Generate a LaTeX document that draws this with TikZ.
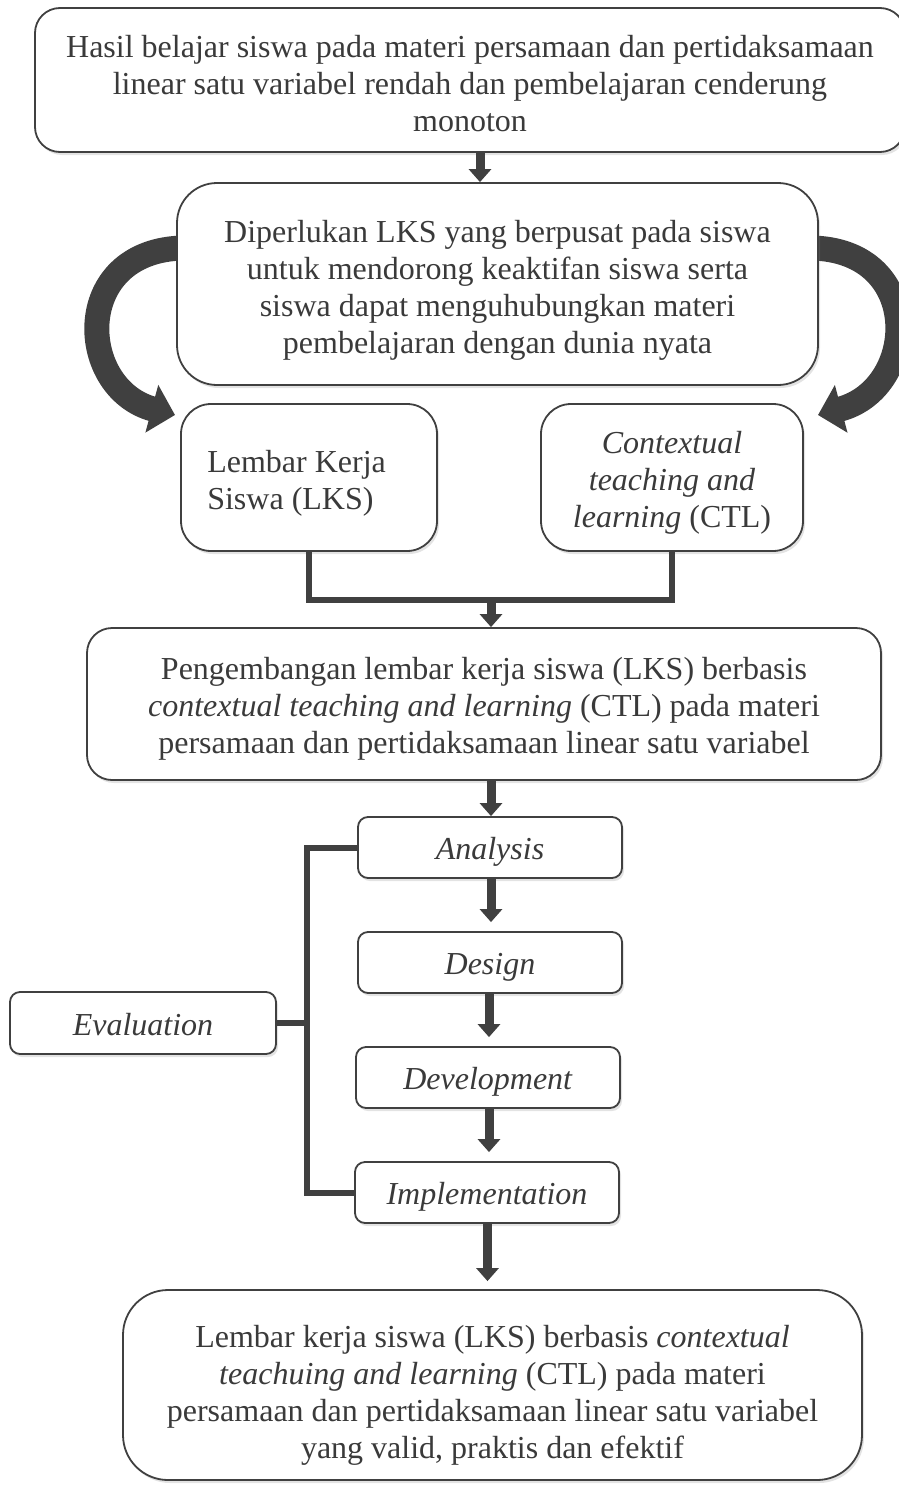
\documentclass[tikz,border=0pt]{standalone}
\usepackage{fontspec}
\setmainfont{Liberation Serif}
\usetikzlibrary{arrows.meta,shadows}
\definecolor{dk}{HTML}{404040}
\definecolor{tx}{HTML}{3A3A3A}
\begin{document}
\begin{tikzpicture}[x=1pt,y=-1pt,
  box/.style={draw=dk, line width=1.8pt, fill=white, inner sep=0pt,
    drop shadow={shadow xshift=2pt, shadow yshift=-3pt, opacity=0.22}},
  txt/.style={text=tx, align=center, inner sep=0pt, font=\fontsize{32}{37}\selectfont},
  conn/.style={draw=dk, line width=6pt},
  barrow/.style={draw=dk, line width=9pt, -{Triangle[width=22pt,length=13pt]}},
  carrow/.style={draw=dk, line width=25pt, -{Triangle[width=48pt,length=24pt]}}]
\useasboundingbox (0,0) rectangle (899,1488);

% curved arrows (behind boxes)
\coordinate (tipL) at (175,415);
\coordinate (tipR) at (818,415);
\coordinate (stL) at (190,248);
\coordinate (stR) at (805,248);
\draw[carrow] (stL) .. controls (70,245) and (75,388) .. (tipL);
\draw[carrow] (stR) .. controls (925,245) and (920,388) .. (tipR);

% boxes
\node[box, minimum width=870, minimum height=144, rounded corners=25] (top) at (470,80) {};
\node[txt] (topt) at ([yshift=-4pt]top.center)
  {Hasil belajar siswa pada materi persamaan dan pertidaksamaan\\
   linear satu variabel rendah dan pembelajaran cenderung\\ monoton};
\node[box, minimum width=641, minimum height=202, rounded corners=40] (b2) at (497.5,284) {};
\node[txt] (b2t) at ([yshift=-6pt]b2.center)
  {Diperlukan LKS yang berpusat pada siswa\\ untuk mendorong keaktifan siswa serta\\
   siswa dapat menguhubungkan materi\\ pembelajaran dengan dunia nyata};
\node[box, minimum width=256, minimum height=147, rounded corners=30] (lks) at (309,477.5) {};
\node[txt, align=left, anchor=west] (lkst) at ([xshift=27pt,yshift=-6pt]lks.west)
  {Lembar Kerja\\ Siswa (LKS)};
\node[box, minimum width=262, minimum height=147, rounded corners=30] (ctl) at (672,477.5) {};
\node[txt] (ctlt) at ([yshift=-5pt]ctl.center)
  {\textit{Contextual}\\ \textit{teaching and}\\ \textit{learning} (CTL)};
\node[box, minimum width=794, minimum height=152, rounded corners=25] (b6) at (484,704) {};
\node[txt] (b6t) at ([yshift=-5pt]b6.center)
  {Pengembangan lembar kerja siswa (LKS) berbasis\\
   \textit{contextual teaching and learning} (CTL) pada materi\\
   persamaan dan pertidaksamaan linear satu variabel};
\node[box, minimum width=264, minimum height=61, rounded corners=10] (ana) at (490,847.5) {};
\node[txt] (anat) at ([yshift=-4pt]ana.center) {\textit{Analysis}};
\node[box, minimum width=264, minimum height=61, rounded corners=10] (des) at (490,962.5) {};
\node[txt] (dest) at ([yshift=-5pt]des.center) {\textit{Design}};
\node[box, minimum width=264, minimum height=61, rounded corners=10] (dev) at (488,1077.5) {};
\node[txt] (devt) at ([yshift=-4pt]dev.center) {\textit{Development}};
\node[box, minimum width=264, minimum height=61, rounded corners=10] (imp) at (487,1192.5) {};
\node[txt] (impt) at ([yshift=-4pt]imp.center) {\textit{Implementation}};
\node[box, minimum width=266, minimum height=62, rounded corners=10] (eva) at (143,1023) {};
\node[txt] (evat) at ([yshift=-2pt]eva.center) {\textit{Evaluation}};
\node[box, minimum width=739, minimum height=190, rounded corners=45] (fin) at (492.5,1385) {};
\node[txt] (fint) at ([yshift=-10pt]fin.center)
  {Lembar kerja siswa (LKS) berbasis \textit{contextual}\\
   \textit{teachuing and learning} (CTL) pada materi\\
   persamaan dan pertidaksamaan linear satu variabel\\
   yang valid, praktis dan efektif};

% straight arrows
\coordinate (a1) at (480,0);
\draw[barrow] (top.south -| a1) -- (b2.north -| a1);
\coordinate (j) at (491,600);
\draw[conn] (lks.south) -- (lks.south |- j) -| (ctl.south);
\draw[barrow] (j) -- (j |- b6.north);
\coordinate (a2) at (491,0);
\draw[barrow] (b6.south -| a2) -- (ana.north -| a2);
\draw[barrow, shorten >=9pt] (ana.south -| a2) -- (des.north -| a2);
\coordinate (a3) at (489,0);
\draw[barrow, shorten >=9pt] (des.south -| a3) -- (dev.north -| a3);
\draw[barrow, shorten >=9pt] (dev.south -| a3) -- (imp.north -| a3);
\coordinate (a4) at (487.5,0);
\draw[barrow, shorten >=8pt] (imp.south -| a4) -- (fin.north -| a4);

% evaluation bracket
\coordinate (bx) at (307,0);
\draw[conn] (ana.west) -- (ana.west -| bx) -- (imp.west -| bx) -- (imp.west);
\draw[conn] (eva.east) -- (eva.east -| bx);
\end{tikzpicture}
\end{document}
